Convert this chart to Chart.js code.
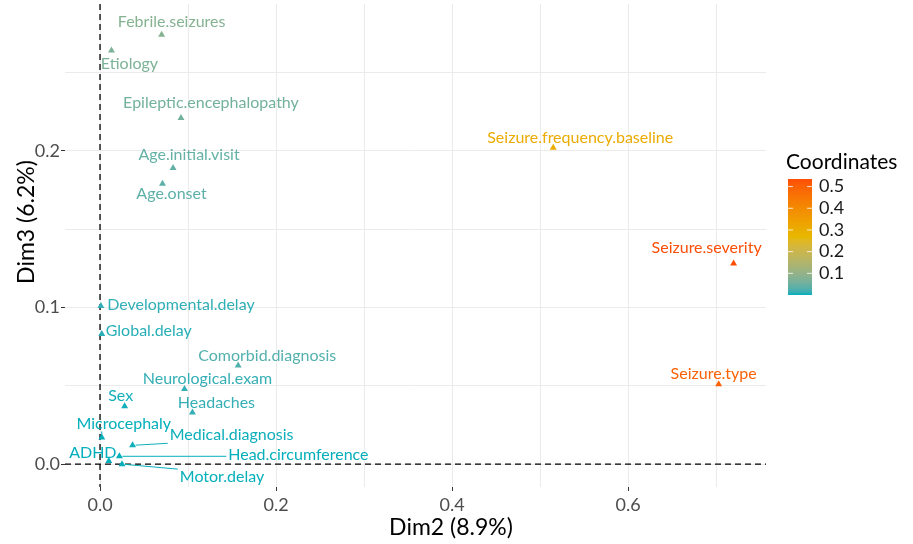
<!DOCTYPE html>
<html>
<head>
<meta charset="utf-8">
<script src="https://cdn.jsdelivr.net/npm/chart.js@4.4.1/dist/chart.umd.min.js"></script>
<style>
  html, body { margin: 0; padding: 0; background: #fff; }
</style>
</head>
<body>
<canvas id="chart" width="913" height="544"></canvas>
<script>
// variables and their coordinates on Dim2 / Dim3
const variables = [
    'Febrile.seizures', 'Etiology', 'Epileptic.encephalopathy', 'Age.initial.visit', 'Age.onset',
    'Seizure.frequency.baseline', 'Seizure.severity', 'Seizure.type',
    'Developmental.delay', 'Global.delay', 'Comorbid.diagnosis', 'Neurological.exam', 'Headaches',
    'Sex', 'Microcephaly', 'Medical.diagnosis', 'ADHD', 'Head.circumference', 'Motor.delay'
];
const dim2 = [0.070, 0.013, 0.092, 0.083, 0.071, 0.515, 0.720, 0.703, 0.001, 0.002, 0.157, 0.096, 0.105, 0.028, 0.002, 0.037, 0.010, 0.022, 0.025];
const dim3 = [0.274, 0.264, 0.221, 0.189, 0.179, 0.202, 0.128, 0.051, 0.101, 0.083, 0.063, 0.048, 0.033, 0.037, 0.017, 0.012, 0.002, 0.005, 0.000];
// colour value ("Coordinates") of each variable
const coordValues = [0.080, 0.070, 0.057, 0.043, 0.037, 0.306, 0.535, 0.497, 0.010, 0.007, 0.029, 0.012, 0.012, 0.002, 0.0003, 0.0015, 0.0001, 0.0005, 0.0006];

const xTickValues = [0, 0.2, 0.4, 0.6];
const yTickValues = [0, 0.1, 0.2];
const legendTickValues = [0.1, 0.2, 0.3, 0.4, 0.5];
const gradientColors = ['#00AFBB', '#E7B800', '#FC4E07'];

// label placement (pixel offset of label centre from its point), like ggrepel did it
const labelOffsets = [
    [10, -13], [18, 13], [30, -15], [16, -13], [9, 10],
    [27, -10], [-27, -16], [-5, -10],
    [80, -1], [47, -3], [29, -10], [23, -10], [24, -10],
    [-4, -10], [22, -14], [99, -10], [-16, -8], [179, -1], [100, 13]
];
const withSegment = ['Microcephaly', 'Medical.diagnosis', 'Head.circumference', 'Motor.delay'];

const FONT = 'Lato, "Open Sans", sans-serif';
const cMin = Math.min(...coordValues);
const cMax = Math.max(...coordValues);

// colour ramp interpolated in CIELAB, as ggplot does
const WHITE = [0.95047, 1, 1.08883];

function toLab(hex) {
    const rgb = [1, 3, 5].map(i => parseInt(hex.slice(i, i + 2), 16) / 255)
        .map(c => c <= 0.04045 ? c / 12.92 : Math.pow((c + 0.055) / 1.055, 2.4));
    const xyz = [
        0.4124 * rgb[0] + 0.3576 * rgb[1] + 0.1805 * rgb[2],
        0.2126 * rgb[0] + 0.7152 * rgb[1] + 0.0722 * rgb[2],
        0.0193 * rgb[0] + 0.1192 * rgb[1] + 0.9505 * rgb[2]
    ];
    const f = xyz.map((v, i) => {
        const t = v / WHITE[i];
        return t > 0.008856 ? Math.cbrt(t) : 7.787 * t + 16 / 116;
    });
    return [116 * f[1] - 16, 500 * (f[0] - f[1]), 200 * (f[1] - f[2])];
}

function fromLab(lab) {
    const fy = (lab[0] + 16) / 116;
    const fx = fy + lab[1] / 500;
    const fz = fy - lab[2] / 200;
    const xyz = [fx, fy, fz].map((f, i) => {
        const t = f * f * f > 0.008856 ? f * f * f : (f - 16 / 116) / 7.787;
        return t * WHITE[i];
    });
    const lin = [
        3.2406 * xyz[0] - 1.5372 * xyz[1] - 0.4986 * xyz[2],
        -0.9689 * xyz[0] + 1.8758 * xyz[1] + 0.0415 * xyz[2],
        0.0557 * xyz[0] - 0.2040 * xyz[1] + 1.0570 * xyz[2]
    ];
    const c = lin.map(v => {
        const s = v <= 0.0031308 ? 12.92 * v : 1.055 * Math.pow(v, 1 / 2.4) - 0.055;
        return Math.round(Math.max(0, Math.min(1, s)) * 255);
    });
    return 'rgb(' + c.join(',') + ')';
}

const labStops = gradientColors.map(toLab);

function rampColour(t) {
    t = Math.max(0, Math.min(1, t));
    const n = labStops.length - 1;
    const seg = Math.min(n - 1, Math.floor(t * n));
    const f = t * n - seg;
    const a = labStops[seg], b = labStops[seg + 1];
    return fromLab(a.map((x, i) => x + (b[i] - x) * f));
}

function colourFor(v) {
    return rampColour((v - cMin) / (cMax - cMin));
}

function inList(v, list) {
    return list.some(t => Math.abs(t - v) < 1e-6);
}

const pointColours = coordValues.map(colourFor);

const zeroLines = {
    id: 'zeroLines',
    beforeDatasetsDraw(chart) {
        const {ctx, chartArea, scales} = chart;
        const x0 = scales.x.getPixelForValue(0);
        const y0 = scales.y.getPixelForValue(0);
        ctx.save();
        ctx.strokeStyle = '#000';
        ctx.lineWidth = 1.3;
        ctx.setLineDash([6, 4]);
        ctx.beginPath();
        ctx.moveTo(x0, chartArea.top);
        ctx.lineTo(x0, chartArea.bottom);
        ctx.moveTo(chartArea.left, y0);
        ctx.lineTo(chartArea.right, y0);
        ctx.stroke();
        ctx.restore();
    }
};

const pointLabels = {
    id: 'pointLabels',
    afterDatasetsDraw(chart) {
        const ctx = chart.ctx;
        const meta = chart.getDatasetMeta(0);
        ctx.save();
        ctx.font = '16px ' + FONT;
        ctx.textAlign = 'center';
        ctx.textBaseline = 'middle';
        meta.data.forEach((pt, i) => {
            const lx = pt.x + labelOffsets[i][0];
            const ly = pt.y + labelOffsets[i][1];
            ctx.fillStyle = pointColours[i];
            ctx.strokeStyle = pointColours[i];
            if (withSegment.includes(variables[i])) {
                const w = ctx.measureText(variables[i]).width;
                const box = {l: lx - w / 2 - 2, r: lx + w / 2 + 2, t: ly - 8, b: ly + 8};
                const ex = Math.max(box.l, Math.min(pt.x, box.r));
                const ey = Math.max(box.t, Math.min(pt.y, box.b));
                const dx = ex - pt.x, dy = ey - pt.y;
                const len = Math.hypot(dx, dy);
                if (len > 4) {
                    ctx.lineWidth = 1;
                    ctx.beginPath();
                    ctx.moveTo(pt.x + dx / len * 3, pt.y + dy / len * 3);
                    ctx.lineTo(ex, ey);
                    ctx.stroke();
                }
            }
            ctx.fillText(variables[i], lx, ly);
        });
        ctx.restore();
    }
};

const axisTitles = {
    id: 'axisTitles',
    afterDraw(chart) {
        const ctx = chart.ctx;
        ctx.save();
        ctx.fillStyle = '#000';
        ctx.font = '23px ' + FONT;
        ctx.textAlign = 'center';
        ctx.textBaseline = 'middle';
        ctx.fillText('Dim2 (8.9%)', 451, 528);
        ctx.translate(27, 222);
        ctx.rotate(-Math.PI / 2);
        ctx.fillText('Dim3 (6.2%)', 0, 0);
        ctx.restore();
    }
};

const colourBar = {
    id: 'colourBar',
    afterDraw(chart) {
        const ctx = chart.ctx;
        const left = 788, width = 24, top = 179, bottom = 295;
        ctx.save();
        ctx.fillStyle = '#000';
        ctx.font = '21px ' + FONT;
        ctx.textAlign = 'left';
        ctx.textBaseline = 'middle';
        ctx.fillText('Coordinates', 786, 162);

        const grad = ctx.createLinearGradient(0, bottom, 0, top);
        for (let k = 0; k <= 40; k++) {
            grad.addColorStop(k / 40, rampColour(k / 40));
        }
        ctx.fillStyle = grad;
        ctx.fillRect(left, top, width, bottom - top);

        ctx.font = '18px ' + FONT;
        ctx.strokeStyle = 'rgba(255,255,255,0.8)';
        ctx.lineWidth = 1;
        legendTickValues.forEach(v => {
            const y = bottom - (v - cMin) / (cMax - cMin) * (bottom - top);
            ctx.beginPath();
            ctx.moveTo(left, y); ctx.lineTo(left + 5, y);
            ctx.moveTo(left + width - 5, y); ctx.lineTo(left + width, y);
            ctx.stroke();
            ctx.fillStyle = '#1a1a1a';
            ctx.fillText(v.toFixed(1), 819, y);
        });
        ctx.restore();
    }
};

const points = dim2.map((x, i) => ({x: x, y: dim3[i]}));

function fixBox(size, prop) {
    return s => {
        s[prop] = size;
        s.paddingTop = 0; s.paddingBottom = 0;
        s.paddingLeft = 0; s.paddingRight = 0;
    };
}

new Chart(document.getElementById('chart').getContext('2d'), {
    type: 'scatter',
    data: {
        datasets: [{
            label: 'Variables',
            data: points,
            pointStyle: 'triangle',
            pointRadius: 4,
            pointHoverRadius: 4,
            borderWidth: 0,
            backgroundColor: pointColours,
            borderColor: pointColours
        }]
    },
    options: {
        responsive: false,
        animation: false,
        events: [],
        layout: { padding: { left: 0, right: 147, top: 0, bottom: 0 } },
        plugins: {
            legend: { display: false },
            tooltip: { enabled: false }
        },
        scales: {
            x: {
                type: 'linear',
                min: -0.0398,
                max: 0.7568,
                afterFit: fixBox(57, 'height'),
                border: { display: false },
                grid: {
                    color: '#EBEBEB',
                    lineWidth: 1,
                    tickLength: 4,
                    tickColor: c => inList(c.tick.value, xTickValues) ? '#333' : 'rgba(0,0,0,0)'
                },
                ticks: {
                    stepSize: 0.1,
                    includeBounds: false,
                    autoSkip: false,
                    maxRotation: 0,
                    padding: 3,
                    color: '#4D4D4D',
                    font: { family: FONT, size: 18 },
                    callback: v => inList(v, xTickValues) ? v.toFixed(1) : ''
                }
            },
            y: {
                type: 'linear',
                min: -0.0146,
                max: 0.2937,
                afterFit: fixBox(65, 'width'),
                border: { display: false },
                grid: {
                    color: '#EBEBEB',
                    lineWidth: 1,
                    tickLength: 4,
                    tickColor: c => inList(c.tick.value, yTickValues) ? '#333' : 'rgba(0,0,0,0)'
                },
                ticks: {
                    stepSize: 0.05,
                    includeBounds: false,
                    autoSkip: false,
                    padding: 1,
                    color: '#4D4D4D',
                    font: { family: FONT, size: 18 },
                    callback: v => inList(v, yTickValues) ? v.toFixed(1) : ''
                }
            }
        }
    },
    plugins: [zeroLines, pointLabels, axisTitles, colourBar]
});
</script>
</body>
</html>
